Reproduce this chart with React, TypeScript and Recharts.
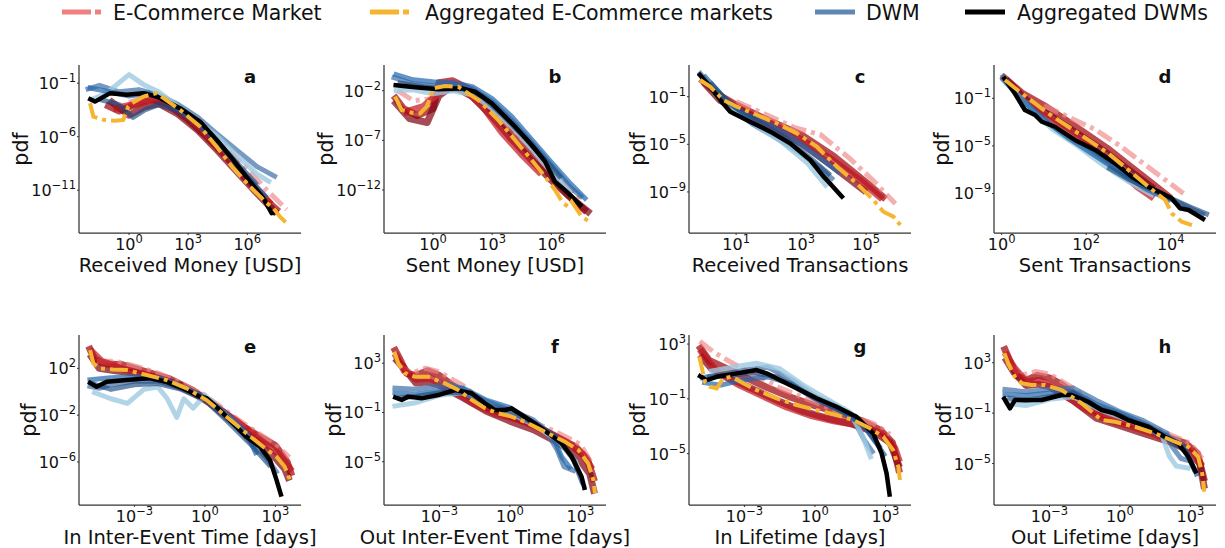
import { LineChart, Line, XAxis, YAxis } from 'recharts'

// every point is [log10(x), log10(pdf)]
type Pt = [number, number]

// ---------- a: Received Money [USD]
const aEcom: Pt[][] = [
  [[-1.2, -3.0], [-0.5, -3.6], [0.3, -3.0], [1, -2.4], [2, -3.0], [3, -4.4], [4, -6.1], [5, -8.0], [6, -10.1], [7, -12.0], [7.6, -13.0]],
  [[-1, -2.6], [0, -4.0], [0.8, -3.2], [1.5, -2.9], [2.5, -3.9], [3.5, -5.4], [4.5, -7.3], [5.5, -9.3], [6.5, -11.3], [7.5, -13.2]],
  [[0, -2.8], [1, -2.2], [2, -2.6], [3, -3.9], [4, -5.5], [5, -7.2], [6, -9.0], [7, -11.0], [8, -12.8]],
  [[-0.8, -3.4], [0.5, -2.9], [1.5, -2.4], [2.5, -3.3], [3.5, -4.9], [4.5, -6.9], [5.5, -8.9], [6.5, -10.9], [7.2, -12.3]],
]
const aEcomAgg: Pt[] = [
  [-1.98, -2.87], [-1.81, -4.12], [-1.3, -4.43], [-0.71, -4.5], [-0.29, -4.43], [-0.04, -3.19], [0.14, -2.87], [0.73, -2.25],
  [1.4, -1.93], [2.59, -3.5], [3.6, -5.05], [4.45, -6.93], [5.29, -8.94], [6.14, -10.66], [6.99, -12.2], [7.33, -12.68], [7.66, -13.47], [8.09, -14.24],
]
const aDwm: Pt[][] = [
  [[-2.2, -1.6], [-1.5, -1.2], [-0.5, -1.8], [0.5, -1.6], [1.5, -2.1], [2.5, -3.0], [3.5, -4.2], [4.5, -5.8], [5.5, -7.3], [6.5, -8.8], [7.5, -9.8]],
  [[-2.0, -2.6], [-1.2, -2.0], [0, -0.2], [0.8, -1.2], [1.5, -1.8], [2.5, -3.2], [3.5, -4.6], [4.5, -6.0], [5.5, -7.8], [6.5, -9.5], [7.2, -10.3]],
  [[-2.1, -1.4], [-1, -1.8], [0, -2.2], [1, -1.9], [2, -2.8], [3, -4.0], [4, -5.6], [5, -7.6], [6, -9.8], [7, -11.7]],
  [[-1.5, -2.5], [-0.5, -3.0], [0.2, -4.2], [0.8, -3.5], [1.5, -3.0], [2.5, -3.6], [3.5, -4.8], [4.5, -6.5], [5.5, -8.5], [6.5, -10.5]],
]
const aDwmAgg: Pt[] = [
  [-2.07, -2.4], [-1.73, -2.72], [-0.96, -1.93], [-0.12, -2.09], [0.73, -1.93], [1.4, -2.25], [2.59, -3.34], [3.6, -4.59],
  [4.45, -6.3], [5.29, -8.17], [6.14, -10.2], [6.82, -11.75], [7.24, -13.15], [7.5, -13.0],
]

// ---------- b: Sent Money [USD]
const bEcom: Pt[][] = [
  [[-2, -2.5], [-1.5, -3.8], [-0.8, -4.5], [0, -3.8], [0.3, -1.2], [1, -1.0], [1.8, -1.8], [2.8, -3.6], [3.8, -5.8], [4.8, -8.0], [5.8, -10.2], [6.8, -12.4], [7.8, -14.2]],
  [[-2, -3.0], [-1.2, -4.8], [-0.3, -5.2], [0.3, -2.5], [1, -1.5], [2, -2.6], [3, -4.6], [4, -6.9], [5, -9.0], [6, -11.0], [7, -12.8], [8, -14.4]],
  [[-1.8, -2.0], [-1, -3.0], [0, -2.8], [1, -1.4], [2, -2.2], [3, -3.8], [4, -5.8], [5, -7.8], [6, -10.0], [7, -12.0], [7.6, -13.2]],
  [[-1.5, -4.2], [-0.5, -3.6], [0.5, -1.9], [1.5, -1.7], [2.5, -3.5], [3.5, -6.2], [4.5, -8.4], [5.5, -10.4]],
]
const bEcomAgg: Pt[] = [
  [-1.93, -2.6], [-1.59, -3.94], [-1.08, -4.21], [-0.66, -4.28], [-0.32, -3.61], [0.02, -1.76], [0.61, -1.53], [1.28, -1.6],
  [2.3, -2.94], [3.31, -4.95], [4.16, -6.96], [5.01, -8.98], [5.69, -10.66], [6.19, -12.0], [6.61, -13.34], [6.87, -13.68],
  [7.04, -13.18], [7.55, -14.69], [8.06, -15.35],
]
const bDwm: Pt[][] = [
  [[-2.1, -0.6], [-1, -1.3], [0, -1.5], [1, -1.4], [2, -1.8], [3, -3.1], [4, -5.0], [5, -7.2], [6, -9.5], [7, -11.8], [7.6, -12.8]],
  [[-2, -2.0], [-1, -1.9], [0, -2.3], [1, -2.0], [2, -2.4], [3, -3.8], [4, -5.6], [5, -7.8], [6, -10.2], [7, -12.3]],
  [[-2, -0.3], [-1, -0.9], [0, -1.1], [1, -1.2], [2, -1.6], [3, -2.8], [4, -4.6], [5, -6.9], [6, -9.2], [7, -11.4], [7.8, -13.0]],
  [[-1.8, -1.2], [-0.5, -1.6], [0.5, -1.8], [1.5, -1.8], [2.5, -2.6], [3.5, -4.4], [4.5, -6.4], [5.5, -8.6], [6.5, -10.8]],
]
const bDwmAgg: Pt[] = [
  [-2.01, -1.43], [-0.91, -1.66], [0.27, -1.86], [1.46, -1.76], [2.13, -2.1], [2.98, -3.27], [4.0, -5.28], [5.01, -7.47],
  [5.69, -9.15], [6.19, -11.16], [6.87, -12.33], [7.21, -13.0], [7.55, -13.68],
]

// ---------- c: Received Transactions
const cEcom: Pt[][] = [
  [[-0.1, 0.5], [0.5, -0.9], [1, -1.7], [2, -3.0], [3, -4.2], [4, -6.0], [5, -8.2], [5.6, -9.6]],
  [[0, 0.2], [0.5, -1.3], [1.2, -2.2], [2, -3.4], [3, -4.9], [4, -6.9], [5, -9.0]],
  [[1, -1.4], [2, -2.6], [2.8, -3.6], [3.6, -4.2], [4.5, -6.2], [5.2, -8.0], [5.9, -10.0]],
  [[0.3, -0.5], [1, -1.9], [2, -3.2], [3, -4.6], [4, -6.4], [4.8, -8.0], [5.5, -9.6]],
]
const cEcomAgg: Pt[] = [
  [-0.11, 0.4], [0.2, -0.16], [0.61, -1.28], [1.02, -1.84], [1.64, -2.54], [2.25, -3.24], [2.87, -4.08], [3.48, -5.2],
  [4.1, -6.88], [4.71, -8.28], [5.22, -9.68], [5.53, -10.66], [5.84, -11.08], [6.05, -11.78],
]
const cDwm: Pt[][] = [
  [[-0.15, 1.1], [0.3, -0.4], [0.8, -1.8], [1.5, -3.3], [2.2, -4.4], [3, -5.8], [3.6, -7.0], [4, -8.0]],
  [[0, 0.6], [0.5, -1.2], [1, -2.2], [1.6, -3.4], [2.4, -4.8], [3.2, -6.6], [3.8, -8.6]],
  [[0, 0.8], [0.6, -1.0], [1.2, -2.4], [1.8, -3.0], [2.6, -4.2], [3.4, -5.8], [4.2, -7.4]],
  [[0.2, 0.2], [0.8, -1.6], [1.5, -2.8], [2.5, -4.4], [3.3, -6.2], [3.9, -7.6]],
]
const cDwmAgg: Pt[] = [
  [-0.16, 0.97], [0.2, -0.16], [0.51, -1.28], [0.82, -2.26], [1.43, -3.1], [2.05, -3.94], [2.66, -4.92], [3.28, -6.32],
  [3.69, -7.72], [3.84, -8.14], [4.3, -9.54],
]

// ---------- d: Sent Transactions
const dEcom: Pt[][] = [
  [[0, 0.9], [0.5, -0.6], [1, -1.6], [1.5, -2.8], [2, -4.0], [2.5, -5.2], [3, -6.6], [3.5, -8.0], [4, -9.4]],
  [[0.1, 0.6], [0.6, -1.2], [1.2, -2.6], [1.8, -4.0], [2.4, -5.4], [3, -7.0], [3.6, -8.6]],
  [[1, -1.6], [1.6, -2.6], [2.2, -3.6], [2.8, -5.0], [3.4, -6.6], [4, -8.2], [4.3, -9.0]],
  [[0.5, -1.4], [1, -2.4], [1.5, -3.6], [2, -4.8], [2.6, -6.4], [3.2, -8.4], [3.6, -9.4]],
]
const dEcomAgg: Pt[] = [
  [0.08, 0.54], [0.47, -0.58], [0.79, -1.42], [1.1, -2.26], [1.58, -3.39], [2.05, -4.5], [2.52, -5.62], [3.0, -7.03],
  [3.47, -8.43], [3.87, -9.55], [4.02, -10.66], [4.26, -11.37], [4.5, -11.65],
]
const dDwm: Pt[][] = [
  [[0, 1.0], [0.4, -0.8], [0.8, -2.2], [1.3, -3.6], [1.8, -4.8], [2.4, -6.2], [3, -7.6], [3.6, -8.8], [4.2, -9.8], [4.8, -10.8]],
  [[0.1, 0.4], [0.6, -1.6], [1.2, -3.6], [1.8, -5.0], [2.4, -6.6], [3, -8.0], [3.6, -9.2]],
  [[0, 0.7], [0.5, -1.2], [1, -2.8], [1.6, -4.4], [2.2, -5.8], [2.8, -7.2], [3.4, -8.6], [4, -9.6]],
  [[2.5, -6.8], [3, -7.8], [3.5, -8.6], [4, -9.4], [4.5, -10.2], [4.9, -10.8]],
]
const dDwmAgg: Pt[] = [
  [0.04, 0.82], [0.31, -0.58], [0.55, -1.98], [0.79, -2.4], [0.95, -2.97], [1.26, -3.39], [1.73, -4.5], [2.21, -5.34],
  [2.68, -6.46], [3.08, -7.59], [3.47, -8.43], [3.79, -8.99], [4.02, -9.4], [4.22, -10.24], [4.42, -10.39], [4.81, -11.23],
]

// ---------- e: In Inter-Event Time [days]
const eEcom: Pt[][] = [
  [[-4.95, 3.9], [-4.7, 2.8], [-4.3, 2.4], [-3.5, 2.3], [-2.5, 1.7], [-1.5, 1.1], [-0.5, 0.1], [0.5, -1.3], [1.5, -2.8], [2.3, -3.8], [3, -4.6], [3.5, -6.0], [3.7, -7.2]],
  [[-4.9, 3.2], [-4.5, 2.0], [-3.8, 1.8], [-3, 1.6], [-2, 1.2], [-1, 0.5], [0, -0.6], [1, -2.3], [2, -3.9], [2.8, -5.2], [3.4, -6.6], [3.6, -7.6]],
  [[-4.6, 2.6], [-3.8, 2.6], [-3, 2.2], [-2, 1.6], [-1, 0.7], [0, -0.3], [1, -1.8], [2, -3.2], [3, -4.5], [3.6, -5.6]],
  [[-4.9, 3.6], [-4.4, 2.6], [-3.6, 2.0], [-2.6, 1.5], [-1.6, 0.9], [-0.6, 0.0], [0.4, -1.2], [1.4, -2.6], [2.4, -4.2], [3.2, -5.4], [3.7, -6.8]],
]
const eEcomAgg: Pt[] = [
  [-4.89, 3.56], [-4.75, 2.43], [-4.47, 2.0], [-3.9, 1.91], [-3.33, 1.85], [-2.48, 1.43], [-1.63, 1.0], [-0.78, 0.29],
  [0.07, -0.71], [0.92, -2.14], [1.77, -3.56], [2.48, -4.7], [3.05, -5.56], [3.4, -6.41], [3.62, -7.55],
]
const eDwm: Pt[][] = [
  [[-5, 0.5], [-4.5, 0.3], [-4, 0.6], [-3, 0.9], [-2, 0.9], [-1, 0.3], [0, -0.6], [1, -2.3], [2, -4.4], [2.6, -5.6], [3.1, -7.0]],
  [[-4.8, 0.0], [-4, -0.6], [-3.3, -1.0], [-2.6, 0.2], [-2, 0.4], [-1.6, -0.6], [-1.2, -2.2], [-0.9, -0.6], [-0.5, -1.4], [0, -0.3], [0.8, -1.8], [1.6, -3.4], [2.4, -5.0]],
  [[-5, 1.0], [-4, 1.2], [-3, 1.3], [-2, 1.2], [-1, 0.5], [0, -0.5], [1, -2.0], [1.8, -3.6], [2.2, -5.4]],
  [[-4.8, 0.7], [-4, 0.2], [-3, 0.6], [-2, 0.7], [-1, 0.2], [0, -0.7], [1, -2.6], [2, -4.6], [2.8, -6.4]],
]
const eDwmAgg: Pt[] = [
  [-4.97, 0.85], [-4.61, 0.43], [-4.18, 0.85], [-3.33, 1.0], [-2.34, 1.15], [-1.63, 0.85], [-0.78, 0.15], [-0.21, -0.43],
  [0.07, -0.56], [0.64, -1.56], [1.2, -2.7], [1.77, -3.85], [2.34, -4.7], [2.77, -5.84], [3.05, -7.55], [3.26, -8.97],
]

// ---------- f: Out Inter-Event Time [days]
const fEcom: Pt[][] = [
  [[-4.95, 4.3], [-4.7, 3.4], [-4.4, 2.2], [-4, 2.0], [-3.5, 2.4], [-3, 2.0], [-2.5, 1.3], [-2, 0.6], [-1.5, 0.0], [-1, -0.6], [0, -1.3], [1, -2.0], [2, -3.0], [2.8, -3.8], [3.3, -4.8], [3.6, -6.6]],
  [[-4.9, 3.4], [-4.5, 2.6], [-4, 1.4], [-3.5, 1.5], [-3, 1.2], [-2, 0.2], [-1, -0.9], [0, -1.7], [1, -2.4], [2, -3.4], [2.8, -4.4], [3.4, -6.0], [3.6, -7.6]],
  [[-4.8, 3.0], [-4.2, 2.2], [-3.6, 2.6], [-3, 2.3], [-2, 1.2], [-1, -0.3], [0, -1.0], [1, -1.8], [2, -2.6], [3, -3.6], [3.5, -5.2]],
  [[-4.9, 3.8], [-4.5, 2.4], [-4, 1.7], [-3.4, 1.8], [-2.6, 1.0], [-1.6, -0.2], [-0.6, -1.1], [0.4, -1.6], [1.4, -2.4], [2.4, -3.4], [3.1, -4.4], [3.5, -5.6]],
]
const fEcomAgg: Pt[] = [
  [-4.92, 3.94], [-4.75, 3.0], [-4.47, 2.19], [-4.04, 1.91], [-3.48, 1.91], [-2.77, 1.37], [-2.2, 0.83], [-1.63, 0.02],
  [-1.06, -0.66], [-0.5, -1.07], [0.07, -1.34], [0.64, -1.75], [1.2, -2.29], [1.77, -2.83], [2.34, -3.37], [2.91, -4.05],
  [3.33, -5.13], [3.55, -6.49], [3.62, -7.57],
]
const fDwm: Pt[][] = [
  [[-5, 1.0], [-4, 0.9], [-3, 1.2], [-2.5, 1.3], [-2, 0.9], [-1, -0.1], [0, -0.8], [1, -1.6], [1.5, -2.4], [2, -4.0], [2.3, -5.4], [2.8, -5.8]],
  [[-5, -0.5], [-4, -0.2], [-3, 0.4], [-2, 0.6], [-1, -0.3], [0, -1.0], [1, -2.0], [2, -3.2], [2.8, -5.0], [3.2, -7.2]],
  [[-5, 0.6], [-4, 0.5], [-3, 0.8], [-2, 1.0], [-1, 0.0], [0, -0.6], [1, -1.8], [1.8, -2.8], [2.2, -4.6], [2.6, -5.6]],
  [[-4.8, 0.2], [-4, 0.3], [-3, 0.6], [-2, 0.6], [-1, -0.4], [0, -0.9], [1, -1.9], [2, -3.0], [2.7, -4.8], [3.1, -6.8]],
]
const fDwmAgg: Pt[] = [
  [-4.97, 0.29], [-4.61, 0.02], [-4.33, 0.29], [-3.76, 0.15], [-3.05, 0.42], [-2.34, 0.83], [-1.63, 0.56], [-1.06, -0.25],
  [-0.64, -0.8], [-0.21, -0.8], [0.07, -0.66], [0.5, -1.2], [1.06, -1.88], [1.63, -2.69], [2.2, -3.5], [2.63, -4.59],
  [3.05, -6.22], [3.19, -7.3],
]

// ---------- g: In Lifetime [days]
const gEcom: Pt[][] = [
  [[-4.95, 2.9], [-4.5, 1.8], [-4, 1.4], [-3, 0.6], [-2, -0.2], [-1, -0.9], [0, -1.5], [1, -2.0], [2, -2.6], [2.8, -3.3], [3.3, -4.2], [3.6, -6.4]],
  [[-4.9, 2.2], [-4.4, 1.2], [-3.5, 0.4], [-2.5, -0.4], [-1.5, -1.2], [-0.5, -1.9], [0.5, -2.4], [1.5, -2.8], [2.5, -3.4], [3.2, -4.2], [3.6, -6.0]],
  [[-4.9, 3.2], [-4.3, 2.4], [-3.5, 1.6], [-2.5, 0.7], [-1.5, -0.2], [-0.5, -0.9], [0.5, -1.6], [1.5, -2.2], [2.5, -2.8], [3.2, -3.6]],
  [[-4.9, 2.6], [-4.2, 1.0], [-3.2, 0.0], [-2.2, -0.8], [-1.2, -1.6], [-0.2, -2.2], [0.8, -2.6], [1.8, -2.9], [2.8, -3.5], [3.4, -4.6], [3.6, -5.6]],
]
const gEcomAgg: Pt[] = [
  [-4.92, 2.07], [-4.68, 0.25], [-4.47, -0.12], [-4.18, -0.24], [-3.9, 0.5], [-3.55, 0.61], [-3.05, 0.13], [-2.48, -0.36],
  [-1.63, -0.96], [-0.78, -1.45], [0.07, -1.82], [0.92, -2.18], [1.63, -2.55], [2.34, -3.15], [2.91, -3.76], [3.33, -4.74],
  [3.55, -5.96], [3.62, -6.93],
]
const gDwm: Pt[][] = [
  [[-4.9, 0.5], [-4, 0.8], [-3, 1.1], [-2, 1.3], [-1, 0.4], [0, -0.8], [1, -1.6], [1.6, -2.4], [2.1, -4.0], [2.5, -5.0]],
  [[-4.5, 1.0], [-3.5, 1.3], [-2.5, 1.6], [-1.5, 1.2], [-0.5, 0.0], [0.5, -1.0], [1.5, -2.0], [2, -3.6], [2.4, -5.4]],
  [[-4.8, 0.2], [-4, 0.0], [-3, 0.4], [-2, 0.6], [-1, 0.1], [0, -1.0], [1, -1.8], [2, -2.8], [2.6, -4.2], [3, -5.2]],
  [[-4.6, 0.6], [-3.6, 0.7], [-2.6, 0.9], [-1.6, 0.6], [-0.6, -0.4], [0.4, -1.3], [1.4, -2.1], [2.2, -3.2], [2.8, -4.6]],
]
const gDwmAgg: Pt[] = [
  [-4.97, 0.74], [-4.61, 0.37], [-4.18, 0.61], [-3.33, 0.86], [-2.48, 1.1], [-2.06, 0.86], [-1.35, 0.25], [-0.78, -0.23],
  [0.07, -0.96], [0.92, -1.58], [1.77, -2.31], [2.48, -3.52], [2.84, -4.98], [3.05, -6.44], [3.19, -8.15],
]

// ---------- h: Out Lifetime [days]
const hEcom: Pt[][] = [
  [[-4.95, 4.3], [-4.7, 3.2], [-4.4, 2.0], [-4, 1.6], [-3.5, 2.0], [-3, 1.8], [-2.5, 1.3], [-2, 0.6], [-1.5, -0.1], [-1, -0.9], [0, -1.6], [1, -2.2], [2, -2.9], [2.8, -3.4], [3.3, -4.2], [3.6, -6.4]],
  [[-4.9, 3.4], [-4.5, 2.2], [-4, 1.2], [-3.5, 1.3], [-3, 1.1], [-2, 0.0], [-1, -1.4], [0, -2.0], [1, -2.6], [2, -3.2], [2.8, -3.8], [3.4, -5.0], [3.6, -7.0]],
  [[-4.8, 3.0], [-4.2, 2.0], [-3.6, 2.3], [-3, 2.1], [-2, 1.0], [-1, -0.5], [0, -1.2], [1, -1.9], [2, -2.6], [3, -3.4], [3.5, -4.6]],
  [[-4.9, 3.8], [-4.5, 2.6], [-4, 1.5], [-3.4, 1.6], [-2.6, 0.8], [-1.6, -0.5], [-0.6, -1.5], [0.4, -2.0], [1.4, -2.6], [2.4, -3.4], [3.1, -4.0], [3.5, -5.2]],
]
const hEcomAgg: Pt[] = [
  [-4.92, 3.75], [-4.75, 2.95], [-4.47, 1.89], [-4.18, 1.37], [-3.76, 1.23], [-3.19, 1.23], [-2.48, 0.83], [-1.63, -0.22],
  [-0.78, -1.55], [-0.21, -1.68], [0.64, -2.08], [1.49, -2.6], [2.34, -3.27], [2.91, -3.67], [3.33, -4.46], [3.5, -5.78], [3.59, -7.24],
]
const hDwm: Pt[][] = [
  [[-5, 0.9], [-4, 0.7], [-3, 0.9], [-2, 1.0], [-1, 0.0], [0, -0.9], [1, -1.6], [2, -2.6], [2.2, -3.6], [2.6, -4.6], [3, -4.8]],
  [[-4.9, -0.2], [-4, -0.4], [-3, 0.1], [-2, 0.3], [-1, -0.6], [0, -1.3], [1, -2.0], [1.8, -2.8], [2.1, -4.4], [2.4, -5.2], [3.0, -5.4]],
  [[-5, 0.5], [-4, 0.4], [-3, 0.6], [-2, 0.7], [-1, -0.3], [0, -1.0], [1, -1.8], [2, -2.8], [2.7, -3.6], [3.2, -5.6]],
  [[-4.8, 0.2], [-4, 0.0], [-3, 0.3], [-2, 0.6], [-1, -0.5], [0, -1.2], [1, -2.0], [2, -3.0], [2.8, -4.0], [3.3, -6.0]],
]
const hDwmAgg: Pt[] = [
  [-4.97, 0.3], [-4.68, -0.62], [-4.47, 0.04], [-4.04, 0.04], [-3.33, 0.04], [-2.48, 0.44], [-2.06, 0.44], [-1.35, -0.1],
  [-0.78, -0.75], [-0.21, -1.02], [0.35, -1.55], [1.2, -2.08], [1.91, -2.87], [2.48, -3.4], [2.91, -4.46], [3.26, -5.78],
]

const FONT = '"DejaVu Sans", sans-serif'
const YW = 75 // room for the y tick labels
const PAD = 8
const XH = 50

// line looks
const RED = [
  { c: '#a50f15', o: 0.75, w: 7, dash: undefined },
  { c: '#7f0010', o: 0.7, w: 7, dash: undefined },
  { c: '#ee8484', o: 0.65, w: 5, dash: '16 5 4 5' },
  { c: '#c0141e', o: 0.7, w: 7, dash: undefined },
]
const BLUE = [
  { c: '#3f6fa5', o: 0.7 },
  { c: '#9ecae1', o: 0.8 },
  { c: '#2166ac', o: 0.7 },
  { c: '#1a4a80', o: 0.65 },
]
const YELLOW = '#f6b530'

const panels = [
  { id: 'a', left: 79, top: 65, w: 222, h: 168, xDom: [-2.54, 8.73], yDom: [-15, 0.7], xTicks: [0, 3, 6], yTicks: [-1, -6, -11], xLabel: 'Received Money [USD]', yLabX: 21, ecom: aEcom, ecomAgg: aEcomAgg, dwm: aDwm, dwmAgg: aDwmAgg },
  { id: 'b', left: 384, top: 65, w: 222, h: 168, xDom: [-2.49, 8.78], yDom: [-16.33, 0.59], xTicks: [0, 3, 6], yTicks: [-2, -7, -12], xLabel: 'Sent Money [USD]', yLabX: 326, ecom: bEcom, ecomAgg: bEcomAgg, dwm: bDwm, dwmAgg: bDwmAgg },
  { id: 'c', left: 689, top: 65, w: 222, h: 168, xDom: [-0.45, 6.38], yDom: [-12.45, 1.66], xTicks: [1, 3, 5], yTicks: [-1, -5, -9], xLabel: 'Received Transactions', yLabX: 638, ecom: cEcom, ecomAgg: cEcomAgg, dwm: cDwm, dwmAgg: cDwmAgg },
  { id: 'd', left: 994, top: 65, w: 222, h: 168, xDom: [-0.18, 5.07], yDom: [-12.32, 1.8], xTicks: [0, 2, 4], yTicks: [-1, -5, -9], xLabel: 'Sent Transactions', yLabX: 942, ecom: dEcom, ecomAgg: dEcomAgg, dwm: dDwm, dwmAgg: dDwmAgg },
  { id: 'e', left: 79, top: 335, w: 222, h: 170, xDom: [-5.36, 4.09], yDom: [-9.68, 4.85], xTicks: [-3, 0, 3], yTicks: [2, -2, -6], xLabel: 'In Inter-Event Time [days]', yLabX: 29, ecom: eEcom, ecomAgg: eEcomAgg, dwm: eDwm, dwmAgg: eDwmAgg },
  { id: 'f', left: 384, top: 335, w: 222, h: 170, xDom: [-5.36, 4.09], yDom: [-8.52, 5.3], xTicks: [-3, 0, 3], yTicks: [3, -1, -5], xLabel: 'Out Inter-Event Time [days]', yLabX: 334, ecom: fEcom, ecomAgg: fEcomAgg, dwm: fDwm, dwmAgg: fDwmAgg },
  { id: 'g', left: 689, top: 335, w: 222, h: 170, xDom: [-5.36, 4.09], yDom: [-8.75, 3.66], xTicks: [-3, 0, 3], yTicks: [3, -1, -5], xLabel: 'In Lifetime [days]', yLabX: 638, ecom: gEcom, ecomAgg: gEcomAgg, dwm: gDwm, dwmAgg: gDwmAgg },
  { id: 'h', left: 994, top: 335, w: 222, h: 170, xDom: [-5.36, 4.09], yDom: [-8.29, 5.2], xTicks: [-3, 0, 3], yTicks: [3, -1, -5], xLabel: 'Out Lifetime [days]', yLabX: 944, ecom: hEcom, ecomAgg: hEcomAgg, dwm: hDwm, dwmAgg: hDwmAgg },
]

const rows = (pts: Pt[]) => pts.map(([lx, ly]) => ({ x: 10 ** lx, y: 10 ** ly }))
const expText = (v: number) => {
  const e = Math.round(Math.log10(v))
  return e < 0 ? `\u2212${-e}` : `${e}`
}

function Panel({ p }: { p: (typeof panels)[number] }) {
  const axisY = PAD + p.h
  const XTick = (props: any) => (
    <text x={props.x} y={axisY + 17} textAnchor="middle" fontSize={16} fill="#111" fontFamily={FONT}>
      10<tspan dy={-7} fontSize={11.5}>{expText(props.payload.value)}</tspan>
    </text>
  )
  const YTick = (props: any) => (
    <text x={YW - 3} y={props.y + 6} textAnchor="end" fontSize={16} fill="#111" fontFamily={FONT}>
      10<tspan dy={-7} fontSize={11.5}>{expText(props.payload.value)}</tspan>
    </text>
  )
  return (
    <div style={{ position: 'absolute', left: p.left - YW, top: p.top - PAD }}>
      <LineChart width={YW + p.w + PAD} height={PAD + p.h + XH} margin={{ top: PAD, right: PAD, left: 0, bottom: 0 }}>
        <XAxis
          type="number"
          dataKey="x"
          scale="log"
          domain={[10 ** p.xDom[0], 10 ** p.xDom[1]]}
          allowDataOverflow
          ticks={p.xTicks.map((e) => 10 ** e)}
          interval={0}
          height={XH}
          tick={XTick}
          tickSize={2}
          tickLine={{ stroke: '#333' }}
          axisLine={{ stroke: '#333', strokeWidth: 1.25 }}
        />
        <YAxis
          type="number"
          dataKey="y"
          scale="log"
          domain={[10 ** p.yDom[0], 10 ** p.yDom[1]]}
          allowDataOverflow
          ticks={p.yTicks.map((e) => 10 ** e)}
          interval={0}
          width={YW}
          tick={YTick}
          tickSize={2}
          tickLine={{ stroke: '#333' }}
          axisLine={{ stroke: '#333', strokeWidth: 1.25 }}
        />
        {p.ecom.map((s, i) => (
          <Line
            key={`r${i}`}
            data={rows(s)}
            dataKey="y"
            type="linear"
            dot={false}
            stroke={RED[i].c}
            strokeOpacity={RED[i].o}
            strokeWidth={RED[i].w}
            strokeDasharray={RED[i].dash}
            strokeLinejoin="round"
            isAnimationActive={false}
          />
        ))}
        {p.dwm.map((s, i) => (
          <Line
            key={`b${i}`}
            data={rows(s)}
            dataKey="y"
            type="linear"
            dot={false}
            stroke={BLUE[i].c}
            strokeOpacity={BLUE[i].o}
            strokeWidth={5}
            strokeLinejoin="round"
            isAnimationActive={false}
          />
        ))}
        <Line data={rows(p.dwmAgg)} dataKey="y" type="linear" dot={false} stroke="#000" strokeWidth={4.5} strokeLinejoin="round" isAnimationActive={false} />
        <Line data={rows(p.ecomAgg)} dataKey="y" type="linear" dot={false} stroke={YELLOW} strokeWidth={4} strokeDasharray="18 5 4 5" isAnimationActive={false} />
      </LineChart>
    </div>
  )
}

const legendItems = [
  { label: 'E-Commerce Market', x: 62, tx: 113, color: '#f08080', dash: '29 4 6 4' },
  { label: 'Aggregated E-Commerce markets', x: 370, tx: 425, color: YELLOW, dash: '29 4 6 4' },
  { label: 'DWM', x: 815, tx: 866, color: '#5f87b5', dash: undefined },
  { label: 'Aggregated DWMs', x: 965, tx: 1017, color: '#000', dash: undefined },
]

export default function App() {
  return (
    <div style={{ position: 'absolute', left: 0, top: 0, width: 1225, height: 548, background: '#fff', fontFamily: FONT }}>
      {panels.map((p) => (
        <Panel key={p.id} p={p} />
      ))}
      <svg width={1225} height={548} style={{ position: 'absolute', left: 0, top: 0, pointerEvents: 'none' }}>
        {legendItems.map((it) => (
          <g key={it.label}>
            <line x1={it.x} x2={it.x + 40} y1={12} y2={12} stroke={it.color} strokeWidth={5} strokeDasharray={it.dash} />
            <text x={it.tx} y={19.5} fontSize={20.5} fill="#111" fontFamily={FONT}>
              {it.label}
            </text>
          </g>
        ))}
        {panels.map((p) => {
          const cy = p.top + p.h / 2
          return (
            <g key={p.id}>
              <text x={p.left + 171} y={p.top + 18} fontSize={18} fontWeight="bold" textAnchor="middle" fill="#111" fontFamily={FONT}>
                {p.id}
              </text>
              <text x={p.left + p.w / 2} y={p.top + p.h + 39} fontSize={19.5} textAnchor="middle" fill="#111" fontFamily={FONT}>
                {p.xLabel}
              </text>
              <text
                x={p.yLabX}
                y={cy}
                fontSize={20.5}
                textAnchor="middle"
                dominantBaseline="central"
                transform={`rotate(-90 ${p.yLabX} ${cy})`}
                fill="#111"
                fontFamily={FONT}
              >
                pdf
              </text>
            </g>
          )
        })}
      </svg>
    </div>
  )
}
